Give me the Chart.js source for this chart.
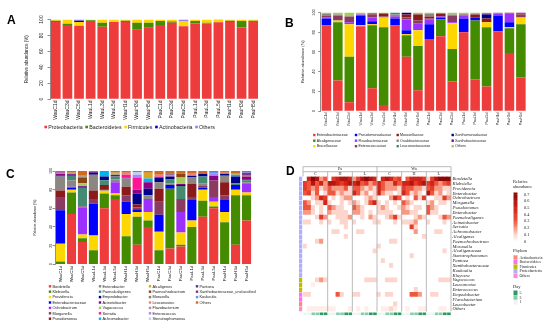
<!DOCTYPE html>
<html><head><meta charset="utf-8">
<script src="https://cdn.jsdelivr.net/npm/chart.js@4.4.1/dist/chart.umd.min.js"></script>
<style>
html,body{margin:0;padding:0;background:#fff;}
#wrap{position:relative;width:554px;height:329px;overflow:hidden;background:#fff;}
canvas{position:absolute;}
</style></head><body>
<div id="wrap">
<canvas id="cA" width="277" height="165" style="left:0;top:0;width:277px;height:165px"></canvas>
<canvas id="cB" width="277" height="165" style="left:277px;top:0;width:277px;height:165px"></canvas>
<canvas id="cC" width="280" height="169" style="left:0;top:160px;width:280px;height:169px"></canvas>
<canvas id="cD" width="274" height="169" style="left:280px;top:160px;width:274px;height:169px"></canvas>
</div>
<script>
// samples shared by A, B, C
const samples = ['WauC1d','WauC3d','WauC5d','WauL1d','WauL3d','WauL5d','WauH1d','WauH3d','WauH5d',
                 'PauC1d','PauC3d','PauC5d','PauL1d','PauL3d','PauL5d','PauH1d','PauH3d','PauH5d'];
const yTicks = [0,20,40,60,80,100];

// ---- A: phylum
const phylaNames = ['Proteobacteria','Bacteroidetes','Firmicutes','Actinobacteria','Others'];
const phylaColors = ['#EE3B3B','#458B00','#FFD700','#0000CD','#9F79EE'];
const proteobacteria = [97,93,92,98,91,97,97,87,89.5,93,96,91.5,95,95,96.5,97,90,98];
const bacteroidetes  = [1.5,1.5,0,1,5,0,1.5,9,6.5,5,1.5,0,3,1,0,1.5,8,0.5];
const firmicutes     = [1.5,5.5,5,1,4,3,1.5,4,4,2,2.5,6.5,2,4,3,1.5,2,1.5];
const actinobacteria = [0,0,1.5,0,0,0,0,0,0,0,0,0,0,0,0,0,0,0];
const phylaOthers    = [0,0,1.5,0,0,0,0,0,0,0,0,2,0,0,0.5,0,0,0];

// ---- B: family
const famNames = ['Enterobacteriaceae','Alcaligenaceae','Brucellaceae','Pseudomonadaceae','Flavobacteriaceae','Enterococcaceae',
                  'Moraxellaceae','Oxalobacteraceae','Leuconostocaceae','Xanthomonadaceae','Xanthobacteraceae','Others'];
const famColors = ['#EE3B3B','#458B00','#FFD700','#0000FF','#9B30FF','#8B3A62','#8B1A1A','#8B8682','#458B74','#00008B','#8B008B','#A2CD5A'];
const enterobacteriaceaeF = [87,31,9,86,23,6,87,55,21,73,76,30,80,32,25,81,59,34];
const alcaligenaceae      = [0,59,46,0,64,79,0,22,45,0,17,33,0,60,60,0,25,54];
const brucellaceae        = [0,2,33,1,1,10,0,1,16,0,0,26,0,0,5,0,1,7];
const pseudomonadaceae    = [7,0,0,10,3,0,7,4,0,15,2,0,14,3,0,16,5,0];
const flavobacteriaceae   = [1,0,2,1,4,0,2,11,7,5,1,1,3,0,0,2,9,0];
const enterococcaceae     = [2,5,6,0,3,1,1,2,3,1,0,7,1,0,0,0,0,3];
const moraxellaceae       = [0,0,0,0,1,3,0,3,6,2,3,0,0,3,4,0,1,1];
const oxalobacteraceae    = [2,1,0,0,0,0,1,0,1,3,0,1,0,1,0,0,0,0];
const leuconostocaceae    = [0,0,0,0,0,0,2,0,0,0,0,0,0,0,0,1,0,0];
const xanthomonadaceae    = [0,0,0,0,0,0,0,2,0,0,0,0,0,0,4,0,0,0];
const xanthobacteraceae   = [0,0,0,0,0,0,0,0,0,0,0,0,0,0,1,0,0,1];
const famOthers           = [1,2,4,2,1,1,0,0,1,1,1,2,2,1,1,0,0,0];

// ---- C: genus
const genNames = ['Bordetella','Klebsiella','Providencia','Enterobacteriaceae','Ochrobactrum','Morganella','Pseudomonas',
                  'Enterobacter','Paenalcaligenes','Empedobacter','Acinetobacter','Vagococcus','Serratia','Achromobacter',
                  'Alcaligenes','Paenochrobactrum','Moraxella','Leuconostoc','Flavobacterium','Enterococcus','Stenotrophomonas',
                  'Pantoea','Xanthobacteraceae_unclassified','Koukoulia','Others'];
const genColors = ['#EE3B3B','#458B00','#FFD700','#0000FF','#9B30FF','#8B3A62','#8B1A1A',
                   '#8B8682','#458B74','#00008B','#8B008B','#A2CD5A','#FF1493','#00B2EE',
                   '#DAA520','#8B4513','#8B7D6B','#F08080','#BC8F8F','#AB82FF','#BCD2EE',
                   '#473C8B','#7A378B','#6495ED','#D2691E'];
const bordetella       = [0,54,24,0,60,70,0,21,40,0,17,19,0,51,60,0,21,47];
const klebsiella       = [3,23,4,15,16,4,30,30,7,15,64,2,40,17,2,45,53,27];
const providencia      = [19,3,4,16,3,2,24,5,9,20,0,13,7,12,5,11,6,3];
const enterobacteriaceaeG = [36,2,0,34,1,0,13,3,0,18,4,0,22,2,0,13,5,0];
const ochrobactrum     = [0,1,29,0,0,12,0,0,14,0,0,22,0,0,5,0,0,9];
const morganella       = [14,0,1,5,0,0,7,2,0,14,0,14,3,2,18,5,0,0];
const pseudomonas      = [7,0,0,9,5,0,9,3,0,14,0,0,14,0,0,14,0,0];
const enterobacter     = [15,7,0,17,0,3,9,0,4,7,2,0,7,3,0,7,0,2];
const paenalcaligenes  = [0,5,20,0,5,3,0,0,0,0,4,14,0,7,0,0,2,2];
const empedobacter     = [1,1,1,2,4,0,0,12,7,5,3,1,2,3,0,2,7,1];
const acinetobacter    = [2,1,1,1,0,2,1,4,7,0,0,1,0,0,5,0,0,3];
const vagococcus       = [0,1,3,0,0,2,0,0,0,0,0,7,0,0,0,0,0,0];
const serratia         = [0,0,0,0,0,0,3,13,0,1,0,0,0,0,0,0,0,0];
const achromobacter    = [0,0,0,0,5,0,0,0,4,0,0,0,0,0,0,0,2,0];
const alcaligenes      = [0,0,0,0,0,0,0,0,6,0,0,0,0,0,0,0,1,1];
const paenochrobactrum = [0,0,6,0,0,0,0,0,0,0,0,4,0,0,0,0,0,0];
const moraxella        = [0,0,1,0,0,0,0,0,0,0,0,0,0,0,0,0,0,0];
const leuconostoc      = [1,0,0,0,0,0,2,0,0,2,2,0,2,0,0,1,0,0];
const flavobacterium   = [0,0,1,0,0,0,0,0,0,0,0,0,0,0,0,0,0,0];
const enterococcus     = [0,0,0,0,0,0,0,3,0,0,0,0,0,0,2,0,0,0];
const stenotrophomonas = [0,0,0,0,0,0,0,3,0,0,0,0,0,0,0,0,0,0];
const pantoea          = [0,0,0,0,0,0,0,0,0,0,1,0,0,0,0,0,0,0];
const xanthoUncl       = [1,0,0,0,0,0,0,0,0,0,0,0,0,0,0,0,0,3];
const koukoulia        = [0,0,0,0,0,0,0,0,0,0,0,0,0,0,2,0,0,1];
const genOthers        = [1,2,5,1,1,2,2,1,2,4,3,3,3,3,1,2,3,1];

// ---- D: heatmap (36 columns: Pa C/H/L, Wa C/H/L, two per day)
const heatCols = ['PaC1a','PaC1b','PaC3a','PaC3b','PaC5a','PaC5b','PaH1a','PaH1b','PaH3a','PaH3b','PaH5a','PaH5b',
                  'PaL1a','PaL1b','PaL3a','PaL3b','PaL5a','PaL5b','WaC1a','WaC1b','WaC3a','WaC3b','WaC5a','WaC5b',
                  'WaH1a','WaH1b','WaH3a','WaH3b','WaH5a','WaH5b','WaL1a','WaL1b','WaL3a','WaL3b','WaL5a','WaL5b'];
const heatDays = [1,1,3,3,5,5,1,1,3,3,5,5,1,1,3,3,5,5,1,1,3,3,5,5,1,1,3,3,5,5,1,1,3,3,5,5];
const heatSites = ['Pa','Wa'];
const heatGroups = ['C','H','L','C','H','L'];
const heatGenera = ['Bordetella','Klebsiella','Providencia','Enterobacter','Ochrobactrum','Morganella','Pseudomonas',
  'Enterobacter','Paenalcaligenes','Acinetobacter','Serratia','Achromobacter','Alcaligenes','Paenochrobactrum',
  'Moraxella','Alcaligenaceae','Stenotrophomonas','Pantoea','Xanthobacteraceae','Koukoulia','Kluyvera',
  'Vagococcus','Leuconostoc','Enterococcus','Empedobacter','Flavobacterium','Leucobacter','Others'];
const heatPhylum = ['Proteobacteria','Proteobacteria','Proteobacteria','Proteobacteria','Proteobacteria','Proteobacteria','Proteobacteria',
  'Proteobacteria','Proteobacteria','Proteobacteria','Proteobacteria','Proteobacteria','Proteobacteria','Proteobacteria',
  'Proteobacteria','Proteobacteria','Proteobacteria','Proteobacteria','Proteobacteria','Proteobacteria','Proteobacteria',
  'Firmicutes','Firmicutes','Firmicutes','Bacteroidetes','Bacteroidetes','Actinobacteria','Others'];
const hBordetella   = [0,.5,.7,.6,.2,.3, 0,.4,.5,.6,.6,.5, .2,.4,.6,.7,.6,.5, 0,.5,.6,.5,.3,.4, 0,.3,.5,.5,.5,.4, .1,.4,.6,.7,.7,.7];
const hKlebsiella   = [.4,.3,.6,.3,.5,.2, .6,.6,.5,.4,.5,.6, .5,.6,.3,.4,.2,.3, .5,.3,.2,.2,.5,.3, .5,.5,.6,.4,.5,.6, .4,.5,.3,.2,.3,.4];
const hProvidencia  = [.4,.3,.2,.3,.1,.2, .3,.2,.2,.2,.3,.1, .3,.3,.2,.1,.2,.1, .5,.3,.2,.2,.2,.1, .4,.3,.3,.2,.2,.1, .3,.4,.2,.2,.1,.1];
const hEnterobac1   = [.3,.4,.1,.3,0,.1, .3,.3,.1,.2,.1,.1, .5,.3,.1,.2,0,.1, .5,.2,.1,.1,0,.1, .5,.3,.1,.2,.1,0, .6,.3,.1,.2,0,.1];
const hOchrobactrum = [0,0,.1,.2,.5,.4, 0,.1,0,.1,.2,.2, 0,0,0,.1,.2,.1, 0,0,0,.2,.5,.3, 0,.1,0,.3,.1,.4, 0,0,.1,.1,.4,.2];
const hMorganella   = [.3,.2,0,.1,.1,.5, .1,0,0,.1,0,.1, .2,.1,0,.1,.3,.5, .1,0,.1,0,.1,0, .3,.2,.1,0,0,0, .1,.2,0,.1,.1,0];
const hPseudomonas  = [.3,.3,.1,0,.1,0, .3,.2,.1,.1,0,0, .3,.2,.1,0,0,0, .1,.2,.1,0,0,.1, .2,.1,0,.1,.1,0, .3,.2,.1,0,0,0];
const hEnterobac2   = [.2,.2,.1,0,.1,0, .2,.1,.1,.1,.1,0, .2,.2,.1,0,.1,0, .1,.1,.1,.1,0,0, .2,.2,.1,.1,0,0, .3,.1,.1,0,0,0];
const hPaenalcalig  = [0,0,0,.1,.4,.2, 0,0,.1,.1,.1,.2, 0,0,.1,0,.2,.1, 0,0,.1,.2,.4,.1, 0,0,0,.1,.2,.1, 0,0,0,.1,.3,.2];
const hAcinetobac   = [.1,.1,0,0,.1,0, .1,0,0,.1,.1,0, .1,0,0,0,0,.1, .1,0,0,0,.1,0, .1,.1,.1,.2,0,0, .1,0,0,0,.1,0];
const hSerratia     = [0,0,0,0,0,0, 0,0,0,0,.1,0, 0,0,0,0,0,0, 0,0,0,0,0,0, 0,0,.4,.1,0,0, 0,0,0,0,0,0];
const hAchromobac   = [0,0,0,0,0,0, 0,.1,.1,0,0,0, 0,.1,.1,0,0,0, 0,0,0,0,0,0, 0,0,0,.2,0,0, 0,0,.1,.1,0,0];
const hAlcaligenes  = [0,0,0,0,0,0, 0,0,0,0,.1,0, 0,0,0,0,0,0, 0,0,0,0,0,0, 0,0,0,0,0,.1, 0,0,0,0,0,0];
const hPaenochrob   = [0,0,0,.1,.2,0, 0,0,0,0,0,0, 0,0,0,0,0,0, 0,0,0,.1,.1,0, 0,0,0,0,0,0, 0,0,0,0,0,0];
const hMoraxella    = [.1,0,0,0,0,0, 0,0,0,0,0,0, 0,0,0,0,0,0, .1,0,0,0,0,0, 0,0,0,0,0,0, 0,0,0,0,0,0];
const hAlcaligenac  = [0,0,0,0,0,0, 0,0,0,0,0,0, 0,0,0,0,0,.1, 0,0,0,0,0,0, 0,0,0,0,0,0, 0,0,0,0,.1,0];
const hStenotroph   = [0,0,0,0,0,0, 0,0,0,0,0,0, 0,0,0,0,0,0, 0,0,0,0,0,0, 0,0,.1,0,0,0, 0,0,0,0,0,0];
const hPantoea      = [0,0,0,0,0,0, 0,0,0,0,0,0, 0,0,0,0,0,0, 0,.1,0,0,0,0, 0,0,0,0,0,0, 0,0,0,0,0,0];
const hXanthobac    = [0,0,0,0,0,0, 0,0,0,0,0,0, 0,0,0,0,0,0, 0,0,0,.1,0,0, 0,0,0,0,0,0, 0,0,0,0,0,0];
const hKoukoulia    = [0,0,0,0,0,0, 0,0,0,0,0,0, 0,0,0,0,0,0, 0,0,0,0,0,0, 0,0,0,0,0,0, 0,0,0,0,0,0];
const hKluyvera     = [0,0,0,0,0,0, 0,0,0,0,0,0, 0,0,0,0,0,0, 0,0,0,0,0,0, 0,0,0,0,0,0, 0,0,0,0,0,0];
const hVagococcus   = [0,0,0,.1,.2,.1, 0,0,0,0,0,0, 0,0,0,.1,.1,.1, 0,0,.1,.1,.1,0, 0,0,0,0,0,0, 0,0,0,.1,.1,.1];
const hLeuconostoc  = [0,0,.05,0,0,0, 0,0,0,0,0,0, 0,0,0,0,0,0, 0,0,0,0,0,0, 0,0,0,0,0,0, 0,0,0,0,0,0];
const hEnterococcus = [0,0,0,0,0,0, 0,0,0,0,0,0, 0,0,0,0,0,0, 0,0,0,0,0,0, 0,0,0,.1,0,0, 0,0,0,0,0,0];
const hEmpedobacter = [.1,.1,0,0,0,0, 0,0,.3,.1,0,0, .1,.1,0,0,0,0, .1,0,.1,.1,0,0, 0,0,.3,.3,.2,0, 0,.1,.1,0,0,0];
const hFlavobact    = [0,0,0,0,0,0, 0,0,0,0,0,0, 0,0,0,0,0,0, 0,0,0,0,0,0, 0,0,0,0,0,0, 0,0,0,0,0,0];
const hLeucobacter  = [0,0,0,0,0,0, 0,0,0,0,0,0, 0,0,0,0,0,0, 0,0,0,0,.1,0, 0,0,0,0,0,0, 0,0,0,0,0,0];
const hOthers       = [0,.05,.05,.05,.05,.05, .05,.05,0,0,0,.05, 0,.05,0,.05,0,0, 0,.05,.05,.1,.05,0, 0,.05,0,0,.05,.05, 0,0,0,.05,.05,0];
const heatMatrix = [hBordetella,hKlebsiella,hProvidencia,hEnterobac1,hOchrobactrum,hMorganella,hPseudomonas,hEnterobac2,
  hPaenalcalig,hAcinetobac,hSerratia,hAchromobac,hAlcaligenes,hPaenochrob,hMoraxella,hAlcaligenac,hStenotroph,hPantoea,
  hXanthobac,hKoukoulia,hKluyvera,hVagococcus,hLeuconostoc,hEnterococcus,hEmpedobacter,hFlavobact,hLeucobacter,hOthers];
const heatTicks = [0,0.1,0.2,0.3,0.4,0.5,0.6,0.7];
const phylumOrder = ['Actinobacteria','Bacteroidetes','Firmicutes','Proteobacteria','Others'];
const phylumColors = {Actinobacteria:'#F58C7A',Bacteroidetes:'#FF6EF0',Firmicutes:'#BDBD00',Proteobacteria:'#AFAFFF',Others:'#FF8CC8'};
const dayOrder = [5,3,1];
const dayColors = {1:'#EDF5F1',3:'#86CDAF',5:'#2E9960'};

const FONT = '"Liberation Sans", Arial, sans-serif';
const SERIF = '"Liberation Serif", "Times New Roman", serif';
const TXT = '#222';

function legendPlugin(names, colors, L){
  return {id:'lg', afterDraw(chart){
    const ctx = chart.ctx; ctx.save();
    ctx.font = L.size + 'px ' + FONT; ctx.textBaseline = 'middle'; ctx.textAlign = 'left';
    let fx = L.x0;
    names.forEach((n,i)=>{
      let x, y;
      if(L.cols){ x = L.cols[Math.floor(i / L.ys.length)]; y = L.ys[i % L.ys.length]; }
      else { x = fx; y = L.y; }
      ctx.fillStyle = colors[i]; ctx.fillRect(x - L.box/2, y - L.box/2, L.box, L.box);
      ctx.fillStyle = TXT; ctx.fillText(n, x + L.box/2 + 1.2, y + 0.2);
      if(!L.cols) fx = x + L.box/2 + 1.2 + ctx.measureText(n).width + L.gap;
    });
    ctx.restore();
  }};
}

function yLabelPlugin(o){
  return {id:'yl', afterDraw(chart){
    const s = chart.scales.y, ctx = chart.ctx; ctx.save();
    ctx.font = o.yfont + 'px ' + FONT; ctx.fillStyle = TXT; ctx.textAlign = 'center'; ctx.textBaseline = 'middle';
    yTicks.forEach(v=>{ ctx.save(); ctx.translate(o.ylx, s.getPixelForValue(v)); ctx.rotate(-Math.PI/2); ctx.fillText(String(v), 0, 0); ctx.restore(); });
    ctx.font = 'bold ' + o.letterSize + 'px ' + FONT; ctx.textAlign = 'left'; ctx.textBaseline = 'alphabetic';
    ctx.fillStyle = '#000'; ctx.fillText(o.letter, o.lx, o.ly);
    ctx.restore();
  }};
}

function barChart(id, names, colors, series, o){
  const datasets = names.map((n,i)=>({label:n, data:series[i], backgroundColor:colors[i], borderWidth:0,
    barPercentage:1/1.2, categoryPercentage:1}));
  return new Chart(document.getElementById(id), {
    type:'bar',
    data:{labels:samples, datasets},
    options:{
      responsive:false, animation:false, events:[],
      layout:{padding:{left:o.pl, right:o.pr, top:o.pt, bottom:o.pb}},
      plugins:{legend:{display:false}, tooltip:{enabled:false}},
      scales:{
        x:{stacked:true, grid:{display:false, drawTicks:false}, border:{display:false},
           ticks:{autoSkip:false, minRotation:90, maxRotation:90, padding:1.5, color:TXT, font:{family:FONT, size:o.xfont}},
           afterFit(s){ s.height = o.xh; }},
        y:{stacked:true, min:0, max:100, ticks:{stepSize:20, display:false},
           grid:{drawOnChartArea:false, drawTicks:true, tickLength:2.5, color:'#444', lineWidth:0.6},
           border:{color:'#444', width:0.6},
           title:{display:true, text:'Relative abundance (%)', color:TXT, padding:0, font:{family:FONT, size:o.tfont}},
           afterFit(s){ s.width = o.yw; }}
      }
    },
    plugins:[legendPlugin(names, colors, o.legend), yLabelPlugin(o)]
  });
}

barChart('cA', phylaNames, phylaColors, [proteobacteria,bacteroidetes,firmicutes,actinobacteria,phylaOthers], {
  pl:24, pr:18, pt:19.5, pb:36, yw:26, xh:30, xfont:5, yfont:5, tfont:4.5, ylx:42,
  letter:'A', letterSize:12, lx:7, ly:24,
  legend:{x0:45.7, y:127, box:2.6, size:5.3, gap:4}
});

barChart('cB', famNames, famColors, [enterobacteriaceaeF,alcaligenaceae,brucellaceae,pseudomonadaceae,flavobacteriaceae,
  enterococcaceae,moraxellaceae,oxalobacteraceae,leuconostocaceae,xanthomonadaceae,xanthobacteraceae,famOthers], {
  pl:23.7, pr:27.4, pt:12.5, pb:34, yw:20, xh:20, xfont:3.5, yfont:4, tfont:4, ylx:37,
  letter:'B', letterSize:12, lx:8, ly:27,
  legend:{cols:[37.3,79,120.7,175.7], ys:[135,140.7,146.2], box:2.4, size:3.6}
});

barChart('cC', genNames, genColors, [bordetella,klebsiella,providencia,enterobacteriaceaeG,ochrobactrum,morganella,pseudomonas,
  enterobacter,paenalcaligenes,empedobacter,acinetobacter,vagococcus,serratia,achromobacter,alcaligenes,paenochrobactrum,
  moraxella,leuconostoc,flavobacterium,enterococcus,stenotrophomonas,pantoea,xanthoUncl,koukoulia,genOthers], {
  pl:33, pr:28, pt:11, pb:44.7, yw:22.1, xh:20, xfont:4.3, yfont:3.6, tfont:3.4, ylx:50.5,
  letter:'C', letterSize:12, lx:6, ly:18,
  legend:{cols:[50,100,150,197], ys:[126.3,131.7,137.1,142.5,147.9,153.3,158.7], box:2.4, size:3.9}
});

// ---- D
function heatColor(v){
  const stops = [[0,[255,255,255]],[0.05,[254,238,233]],[0.1,[252,214,204]],[0.2,[247,152,130]],[0.3,[239,86,62]],
                 [0.45,[222,45,30]],[0.6,[178,22,16]],[0.75,[122,0,0]]];
  for(let i=1;i<stops.length;i++){
    if(v <= stops[i][0]){
      const a = stops[i-1], b = stops[i], t = (v - a[0]) / (b[0] - a[0]);
      const c = a[1].map((x,k)=>Math.round(x + (b[1][k]-x)*t));
      return 'rgb(' + c.join(',') + ')';
    }
  }
  return 'rgb(122,0,0)';
}

const heatDecor = {id:'heatDecor', afterDraw(chart){
  const ctx = chart.ctx, xs = chart.scales.x, ys = chart.scales.y, ca = chart.chartArea;
  const cw = (ca.right - ca.left) / heatCols.length;
  const rh = (ca.bottom - ca.top) / heatGenera.length;
  const edge = j => ca.left + j*cw;
  ctx.save();
  // group separators
  ctx.strokeStyle = '#A8A8A8'; ctx.lineWidth = 0.8;
  const top = 6.7, mid = 11.7;
  ctx.beginPath();
  ctx.moveTo(edge(0), top); ctx.lineTo(edge(36), top);
  ctx.moveTo(edge(0), mid); ctx.lineTo(edge(36), mid);
  ctx.moveTo(edge(0), top); ctx.lineTo(edge(0), ca.top);
  ctx.moveTo(edge(36), top); ctx.lineTo(edge(36), ca.bottom);
  ctx.moveTo(edge(18), top); ctx.lineTo(edge(18), ca.bottom);
  [6,12,24,30].forEach(j=>{ ctx.moveTo(edge(j), mid); ctx.lineTo(edge(j), ca.bottom); });
  ctx.stroke();
  // header text
  ctx.fillStyle = TXT; ctx.textAlign = 'center'; ctx.textBaseline = 'middle';
  ctx.font = '4.2px ' + SERIF;
  heatSites.forEach((s,i)=>ctx.fillText(s, (edge(i*18) + edge(i*18+18))/2, 9.3));
  heatGroups.forEach((g,i)=>ctx.fillText(g, (edge(i*6) + edge(i*6+6))/2, 14));
  // row labels
  ctx.textAlign = 'left'; ctx.font = 'italic 4.7px ' + SERIF;
  heatGenera.forEach((n,i)=>ctx.fillText(n, ca.right + 1.5, ys.getPixelForValue(heatGenera.length - i - 0.5)));
  // phylum strip
  heatPhylum.forEach((p,i)=>{
    ctx.fillStyle = phylumColors[p];
    ctx.fillRect(19, ys.getPixelForValue(heatGenera.length - i) + 0.2, 3.2, rh - 0.4);
  });
  // day strip
  heatDays.forEach((d,j)=>{
    ctx.fillStyle = dayColors[d];
    ctx.fillRect(xs.getPixelForValue(j) - cw/2 + 0.25, ca.bottom + 1, cw - 0.5, 2.6);
  });
  // colour key
  ctx.font = '4.5px ' + SERIF; ctx.fillStyle = TXT; ctx.textAlign = 'left';
  ctx.fillText('Relative', 233, 21.5); ctx.fillText('abundance', 233, 26.5);
  const kTop = 34.5, kBot = 81.5, kx = 233.5;
  const grad = ctx.createLinearGradient(0, kBot, 0, kTop);
  heatTicks.forEach(v=>grad.addColorStop(v/0.7, heatColor(v)));
  ctx.fillStyle = grad; ctx.fillRect(kx, kTop - 2, 4, kBot - kTop + 2);
  ctx.fillStyle = TXT; ctx.font = '4.3px ' + SERIF;
  heatTicks.forEach(v=>{
    const y = kBot - (kBot - kTop) * v / 0.7;
    ctx.fillText(String(v), 244, y);
  });
  ctx.strokeStyle = '#fff'; ctx.lineWidth = 0.4; ctx.beginPath();
  heatTicks.forEach(v=>{ const y = kBot - (kBot - kTop) * v / 0.7; ctx.moveTo(kx, y); ctx.lineTo(kx + 0.8, y); ctx.moveTo(kx + 3.2, y); ctx.lineTo(kx + 4, y); });
  ctx.stroke();
  // phylum key
  ctx.font = '4.5px ' + SERIF; ctx.fillText('Phylum', 233, 91);
  ctx.font = '3.9px ' + SERIF;
  phylumOrder.forEach((p,i)=>{
    const y = 97.5 + i*4.6;
    ctx.fillStyle = phylumColors[p]; ctx.fillRect(233.5, y - 2.2, 4, 4.4);
    ctx.fillStyle = TXT; ctx.fillText(p, 239.5, y);
  });
  // day key
  ctx.font = '4.5px ' + SERIF; ctx.fillText('Day', 233, 127);
  ctx.font = '3.9px ' + SERIF;
  dayOrder.forEach((d,i)=>{
    const y = 132.8 + i*4.7;
    ctx.fillStyle = dayColors[d]; ctx.fillRect(233.5, y - 2.3, 4, 4.6);
    ctx.fillStyle = TXT; ctx.fillText(String(d), 239.5, y);
  });
  // panel letter
  ctx.font = 'bold 12px ' + FONT; ctx.fillStyle = '#000'; ctx.fillText('D', 6, 12);
  ctx.restore();
}};

new Chart(document.getElementById('cD'), {
  type:'bar',
  data:{labels:heatCols, datasets:heatMatrix.map((row,i)=>({
    label:heatGenera[i], data:row.map(()=>1), backgroundColor:row.map(heatColor),
    borderWidth:0, barPercentage:1, categoryPercentage:1
  })).reverse()},
  options:{
    responsive:false, animation:false, events:[],
    layout:{padding:{left:23, right:103, top:16.5, bottom:17.5}},
    plugins:{legend:{display:false}, tooltip:{enabled:false}},
    scales:{x:{stacked:true, display:false}, y:{stacked:true, display:false, min:0, max:heatGenera.length}}
  },
  plugins:[heatDecor]
});
</script>
</body></html>
